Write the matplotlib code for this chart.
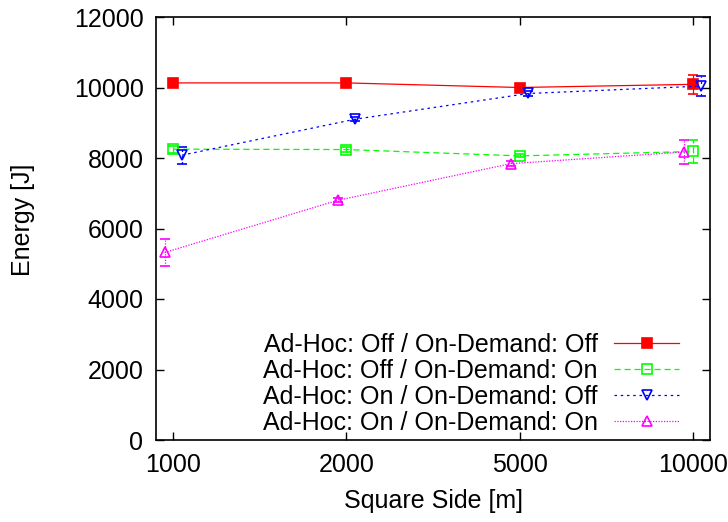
import matplotlib
matplotlib.use('Agg')
import matplotlib.pyplot as plt
import numpy as np

plt.rcParams['font.family'] = ['Liberation Sans', 'DejaVu Sans']

sides = ['1000', '2000', '5000', '10000']

off_off = [10130, 10130, 10000, 10090]
off_off_err = [40, 40, 40, 270]
off_on = [8250, 8240, 8060, 8185]
off_on_err = [100, 80, 40, 320]
on_off = [8080, 9100, 9830, 10040]
on_off_err = [240, 60, 60, 280]
on_on = [5320, 6800, 7840, 8170]
on_on_err = [370, 60, 80, 340]

labels = ['Ad-Hoc: Off / On-Demand: Off',
          'Ad-Hoc: Off / On-Demand: On',
          'Ad-Hoc: On / On-Demand: Off',
          'Ad-Hoc: On / On-Demand: On']

fig = plt.figure(figsize=(7.28, 5.22), dpi=100)
ax = fig.add_axes([156/728, 82/522, 554/728, 423/522])

x = np.arange(len(sides))

series = [
    (off_off, off_off_err, 0.0, '#ff0000', '-', 's', '#ff0000'),
    (off_on, off_on_err, 0.0, '#00ff00', (0, (5, 3)), 's', 'none'),
    (on_off, on_off_err, 0.05, '#0000ff', (0, (2, 3)), 'v', 'none'),
    (on_on, on_on_err, -0.05, '#ff00ff', (0, (1, 1.2)), '^', 'none'),
]

for (vals, err, dx, col, ls, mk, fc), lab in zip(series, labels):
    eb = ax.errorbar(x + dx, vals, yerr=err, color=col, linestyle=ls, linewidth=0.9,
                     marker=mk, markersize=6.5, markerfacecolor=fc, markeredgecolor=col,
                     markeredgewidth=1.2, capsize=3.5, elinewidth=0.9, label=lab)
    for b in eb[2]:
        b.set_linestyle(ls)

ax.set_xlim(-0.1, 3.1)
ax.set_ylim(0, 12000)
ax.set_xticks(x)
ax.set_xticklabels(sides)
ax.set_yticks(np.arange(0, 12001, 2000))
ax.tick_params(direction='in', top=True, right=True, length=6, width=1,
               labelsize=18, pad=9)
for s in ax.spines.values():
    s.set_linewidth(1.2)

ax.set_xlabel('Square Side [m]', fontsize=18, labelpad=9)
ax.set_ylabel('Energy [J]', fontsize=18)
ax.yaxis.set_label_coords(-0.218, 0.52)

handles, labs = ax.get_legend_handles_labels()
handles = [h[0] for h in handles]
ax.legend(handles, labs, loc='lower right', bbox_to_anchor=(0.967, -0.017),
          frameon=False, markerfirst=False, fontsize=18, handlelength=2.6,
          handletextpad=0.65, labelspacing=0.08, numpoints=1, borderaxespad=0.1)

fig.savefig('out.png', dpi=100)
